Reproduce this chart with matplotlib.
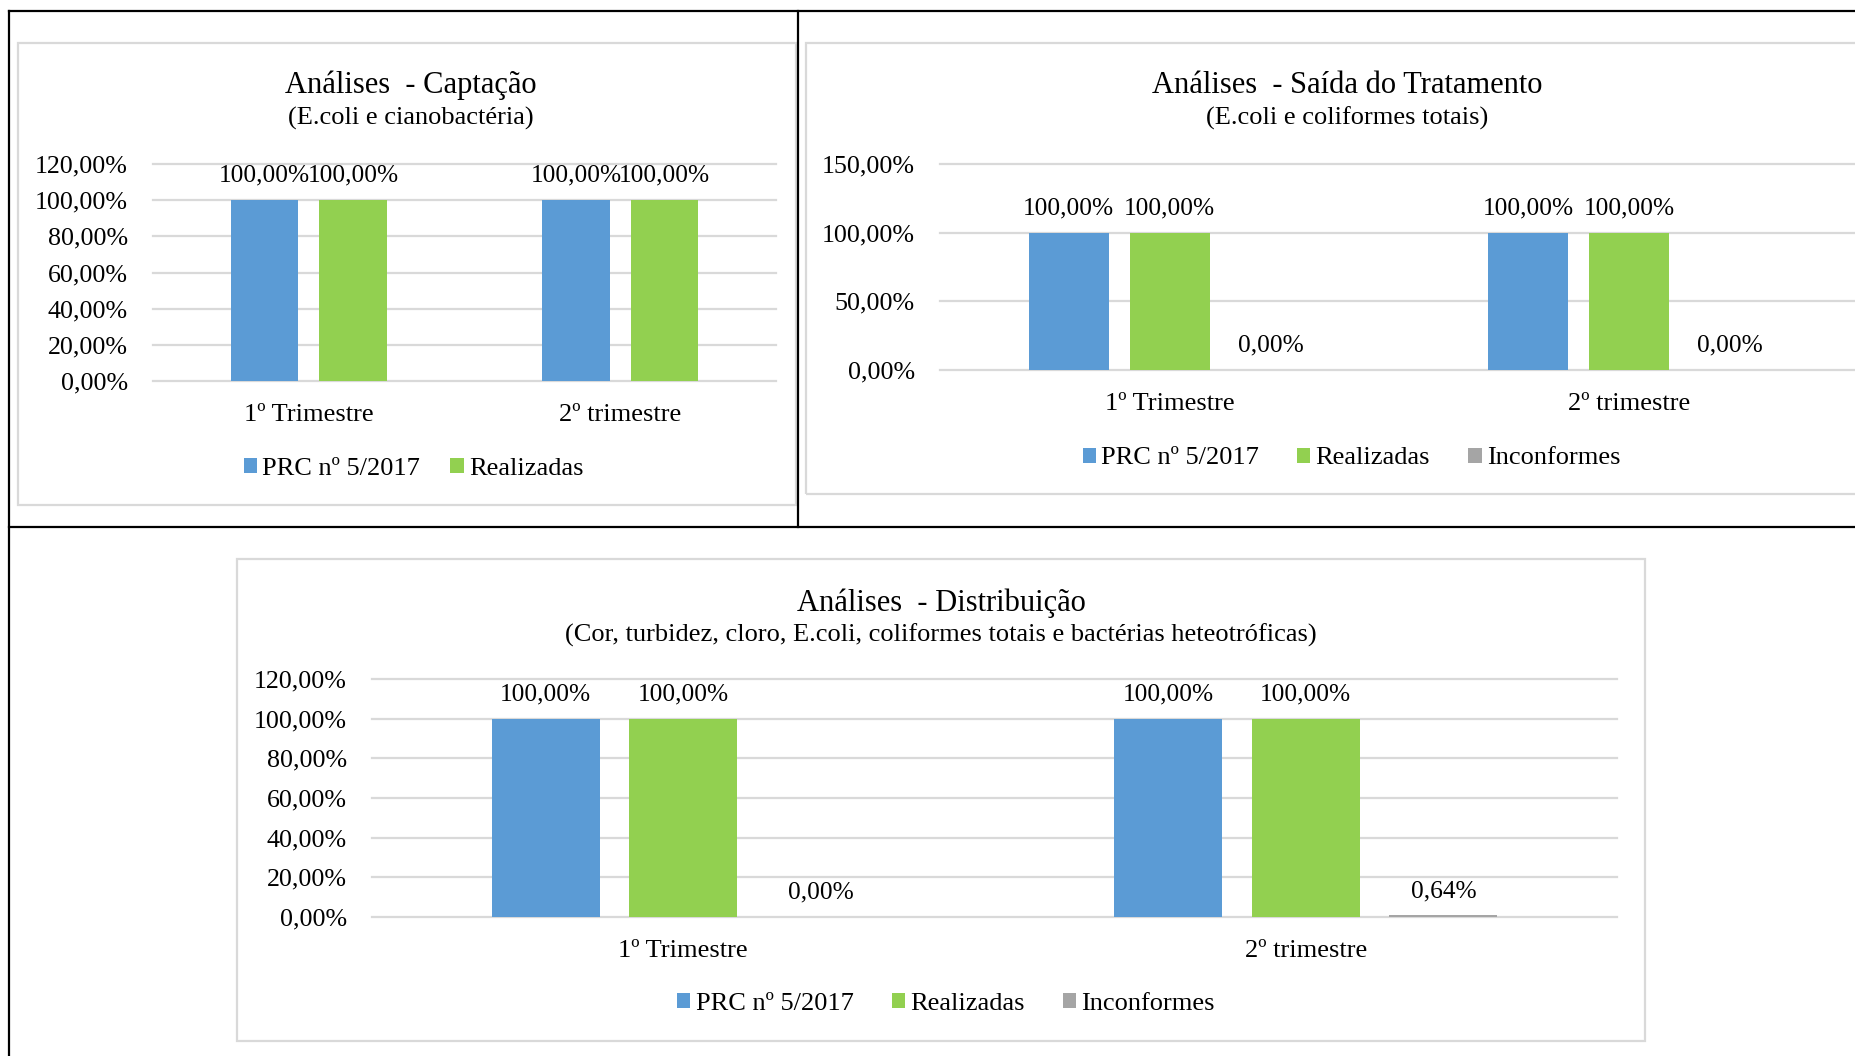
"""Painel com três gráficos de barras: análises de captação, saída do tratamento e distribuição."""
import matplotlib
matplotlib.use("Agg")
import matplotlib.pyplot as plt
import matplotlib.patches as mpatches
from matplotlib.lines import Line2D
import numpy as np

# ---- dados ----
CATEGORIES = ["1º Trimestre", "2º trimestre"]
SERIES = ["PRC nº 5/2017", "Realizadas", "Inconformes"]

CAPTACAO_PRC = [1.0, 1.0]
CAPTACAO_REAL = [1.0, 1.0]

SAIDA_PRC = [1.0, 1.0]
SAIDA_REAL = [1.0, 1.0]
SAIDA_INC = [0.0, 0.0]

DIST_PRC = [1.0, 1.0]
DIST_REAL = [1.0, 1.0]
DIST_INC = [0.0, 0.0064]

# ---- estilo ----
C_BLUE = "#5b9bd5"
C_GREEN = "#92d050"
C_GRAY = "#a5a5a5"
C_GRID = "#d9d9d9"
C_INK = "#000000"
COLORS = [C_BLUE, C_GREEN, C_GRAY]

W, H = 1856, 1056
DPI = 100
PX = 72 / DPI  # points per pixel

FS_TITLE = 22
FS_SUB = 19
FS_TICK = 18.7
FS_LABEL = 18.3
FS_CAT = 19
FS_LEG = 19

plt.rcParams.update({
    "font.family": ["Liberation Serif", "DejaVu Serif"],
    "text.color": C_INK,
    "axes.facecolor": "white",
    "figure.facecolor": "white",
})


def fx(px):
    return px / W


def fy(py):
    return 1 - py / H


def pct(v):
    return f"{v * 100:.2f}%".replace(".", ",")


def draw_panel(fig, box, title, subtitle, title_x, title_y, plot_px,
               ymax, ystep, series_vals, width, spacing, leg_xy, colspace=1.45):
    # moldura cinza do gráfico
    x0, y0, x1, y1 = box
    fig.add_artist(mpatches.Rectangle((fx(x0), fy(y1)), (x1 - x0) / W, (y1 - y0) / H,
                                      transform=fig.transFigure, fill=False,
                                      edgecolor=C_GRID, lw=1.6, zorder=1))
    fig.text(fx(title_x), fy(title_y), title, ha="center", va="baseline",
             fontsize=FS_TITLE)
    fig.text(fx(title_x), fy(title_y + 31), subtitle, ha="center", va="baseline",
             fontsize=FS_SUB)

    px0, py0, px1, py1 = plot_px
    ax = fig.add_axes([fx(px0), fy(py1), (px1 - px0) / W, (py1 - py0) / H])
    n = len(series_vals)
    x = np.arange(len(CATEGORIES))
    for k, vals in enumerate(series_vals):
        off = (k - (n - 1) / 2) * spacing
        ax.bar(x + off, vals, width=width, color=COLORS[k], zorder=3)
        for xi, v in zip(x + off, vals):
            ax.annotate(pct(v), xy=(xi, v), xytext=(0, 24.3 * PX),
                        textcoords="offset points", ha="center", va="center",
                        fontsize=FS_LABEL, annotation_clip=False)
    for i, cat in enumerate(CATEGORIES):
        ax.annotate(cat, xy=(i, 0), xycoords=("data", "axes fraction"),
                    xytext=(0, -34 * PX), textcoords="offset points",
                    ha="center", va="center", fontsize=FS_CAT, annotation_clip=False)

    ax.set_xlim(-0.5, len(CATEGORIES) - 0.5)
    ax.set_ylim(0, ymax)
    ax.set_yticks(np.arange(0, ymax + 1e-9, ystep))
    ax.set_yticklabels([pct(t) for t in ax.get_yticks()], fontsize=FS_TICK)
    ax.set_xticks([])
    ax.tick_params(axis="y", length=0, pad=25 * PX)
    for s in ax.spines.values():
        s.set_visible(False)
    ax.grid(axis="y", color=C_GRID, lw=1.6)
    ax.set_axisbelow(True)
    for gl in ax.get_ygridlines():
        gl.set_clip_on(False)
    ax.patch.set_alpha(0)

    handles = [mpatches.Patch(facecolor=COLORS[k], edgecolor="none") for k in range(n)]
    fig.legend(handles, SERIES[:n], loc="center",
               bbox_to_anchor=(fx(leg_xy[0]), fy(leg_xy[1])), ncol=n,
               frameon=False, fontsize=FS_LEG, handlelength=0.5, handleheight=0.5,
               handletextpad=0.2, columnspacing=colspace, borderpad=0, borderaxespad=0)
    return ax


fig = plt.figure(figsize=(W / DPI, H / DPI), dpi=DPI)

# linhas da tabela
for (xa, ya, xb, yb) in [(9, 11, W, 11), (9, 11, 9, H), (797.7, 11, 797.7, 526.7),
                         (9, 526.7, W, 526.7)]:
    fig.add_artist(Line2D([fx(xa), fx(xb)], [fy(ya), fy(yb)], transform=fig.transFigure,
                          color=C_INK, lw=1.6, zorder=5))

draw_panel(fig, (17.8, 42.6, 796, 504.7), "Análises  - Captação",
           "(E.coli e cianobactéria)", 411, 93.3, (153, 164, 776, 381),
           1.2, 0.2, [CAPTACAO_PRC, CAPTACAO_REAL], 0.218, 0.284, (413.5, 469),
           colspace=1.15)

draw_panel(fig, (806, 42.6, W + 20, 493.6), "Análises  - Saída do Tratamento",
           "(E.coli e coliformes totais)", 1347, 93.3, (940, 164, 1859, 370),
           1.5, 0.5, [SAIDA_PRC, SAIDA_REAL, SAIDA_INC], 0.174, 0.22, (1351.5, 458.5))

draw_panel(fig, (236.7, 559, 1645, 1041), "Análises  - Distribuição",
           "(Cor, turbidez, cloro, E.coli, coliformes totais e bactérias heteotróficas)",
           941, 610.5, (372, 679.3, 1617, 916.7),
           1.2, 0.2, [DIST_PRC, DIST_REAL, DIST_INC], 0.174, 0.221, (946, 1004))

fig.savefig("out.png", dpi=DPI, facecolor="white")
